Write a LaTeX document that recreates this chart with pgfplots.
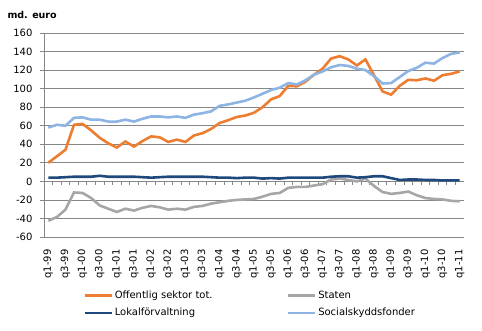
\documentclass[border=0pt]{standalone}
\usepackage{pgfplots}
\pgfplotsset{compat=1.18}
\usepackage{fontspec}
\setmainfont{DejaVu Sans}
\definecolor{corange}{HTML}{ED7D31}
\definecolor{cgray}{HTML}{A6A6A6}
\definecolor{cdark}{HTML}{1F497D}
\definecolor{clight}{HTML}{8DB4E2}
\definecolor{cgrid}{HTML}{868686}
\begin{document}
\begin{tikzpicture}
\path[use as bounding box] (-44pt,-94pt) rectangle (438pt,237pt);
\node[anchor=west,font=\bfseries\fontsize{9.5}{11}\selectfont] at (-40pt,222pt) {md. euro};
\begin{axis}[
  at={(0pt,0pt)}, anchor=south west,
  scale only axis, width=420pt, height=204pt,
  xmin=-0.5, xmax=48.5, ymin=-60, ymax=160,
  ytick={-60,-40,...,160},
  xtick={0,2,...,48},
  xticklabels={q1-99,q3-99,q1-00,q3-00,q1-01,q3-01,q1-02,q3-02,q1-03,q3-03,q1-04,q3-04,q1-05,q3-05,q1-06,q3-06,q1-07,q3-07,q1-08,q3-08,q1-09,q3-09,q1-10,q3-10,q1-11},
  /pgf/number format/assume math mode=true,
  axis x line*=bottom, axis y line*=left,
  x axis line style={draw=none},
  y axis line style={draw=cgrid, line width=0.8pt},
  xtick style={draw=none},
  ytick style={draw=cgrid, line width=0.8pt},
  tick align=outside, major tick length=4pt,
  ymajorgrids, grid style={draw=cgrid, line width=0.8pt},
  tick label style={font=\fontsize{10}{12}\selectfont},
  x tick label style={rotate=90, anchor=east},
  y tick label style={anchor=east},
  xticklabel shift=5pt, yticklabel shift=4pt,
  legend columns=2,
  legend style={at={(36pt,-50pt)}, anchor=north west, draw=none, fill=none,
    font=\fontsize{10}{12}\selectfont, cells={anchor=west},
    /tikz/every even column/.append style={column sep=72pt},
    row sep=4pt},
  legend image code/.code={\draw[#1] (0pt,0pt) -- (27pt,0pt);},
]
\draw[cgrid, line width=0.8pt] (axis cs:-0.5,0) -- (axis cs:48.5,0);
\pgfplotsinvokeforeach{-0.5,0.5,...,48.5}{\draw[cgrid, line width=0.8pt] (axis cs:#1,0) -- ++(0pt,-4pt);}
\addplot[corange, line width=2.6pt, no markers] coordinates {
(0,20)(1,27)(2,34)(3,61)(4,62)(5,55)(6,47)(7,41)(8,36.5)(9,43)(10,37.5)(11,43.5)(12,48.5)(13,47.5)(14,42.5)(15,45)(16,42.5)(17,49.5)(18,52)(19,56.5)(20,63)(21,66)(22,69.5)(23,71)(24,74)(25,80)(26,88.5)(27,92)(28,103)(29,102.5)(30,107.5)(31,115)(32,121.5)(33,132.5)(34,135)(35,131.5)(36,125)(37,131.5)(38,114.5)(39,97)(40,93.5)(41,103)(42,109.5)(43,109)(44,111)(45,108.5)(46,114.5)(47,116)(48,118.5)};
\addlegendentry{Offentlig sektor tot.}
\addplot[cgray, line width=2.6pt, no markers] coordinates {
(0,-42.5)(1,-38.5)(2,-30.5)(3,-12)(4,-12.5)(5,-18)(6,-26)(7,-29.5)(8,-33)(9,-29.5)(10,-31.5)(11,-28.5)(12,-26.5)(13,-28)(14,-30.5)(15,-29.5)(16,-30.5)(17,-27.5)(18,-26.5)(19,-24)(20,-22.5)(21,-21)(22,-20)(23,-19.5)(24,-19)(25,-16.5)(26,-13.5)(27,-12.5)(28,-7)(29,-6)(30,-6)(31,-4.5)(32,-3)(33,2)(34,3)(35,1.5)(36,0)(37,3)(38,-5)(39,-11.5)(40,-13.5)(41,-12.5)(42,-11)(43,-15)(44,-18)(45,-19)(46,-19.5)(47,-21)(48,-21.5)};
\addlegendentry{Staten}
\addplot[cdark, line width=2.6pt, no markers] coordinates {
(0,4)(1,4)(2,4.5)(3,5)(4,5)(5,5)(6,6)(7,5)(8,5)(9,5)(10,5)(11,4.5)(12,4)(13,4.5)(14,5)(15,5)(16,5)(17,5)(18,5)(19,4.5)(20,4)(21,4)(22,3.5)(23,4)(24,4)(25,3)(26,3.5)(27,3)(28,4)(29,4)(30,4)(31,4)(32,4)(33,5)(34,5.5)(35,5.5)(36,4)(37,4.5)(38,5.5)(39,5.5)(40,3.5)(41,1.5)(42,2)(43,2)(44,1.5)(45,1.5)(46,1)(47,1)(48,1)};
\addlegendentry{Lokalförvaltning}
\addplot[clight, line width=2.6pt, no markers] coordinates {
(0,58)(1,61)(2,60)(3,68.5)(4,69)(5,66.5)(6,66.5)(7,64.5)(8,64.5)(9,66.5)(10,64.5)(11,67.5)(12,70)(13,70)(14,69)(15,70)(16,68.5)(17,72)(18,73.5)(19,75.5)(20,81.5)(21,83)(22,85)(23,87)(24,90.5)(25,94.5)(26,98.5)(27,101)(28,106)(29,104.5)(30,109)(31,115)(32,118.5)(33,123)(34,125.5)(35,124.5)(36,121.5)(37,120)(38,113.5)(39,105.5)(40,106)(41,112.5)(42,119)(43,122.5)(44,128)(45,127)(46,133)(47,137.5)(48,139)};
\addlegendentry{Socialskyddsfonder}
\end{axis}
\end{tikzpicture}
\end{document}
